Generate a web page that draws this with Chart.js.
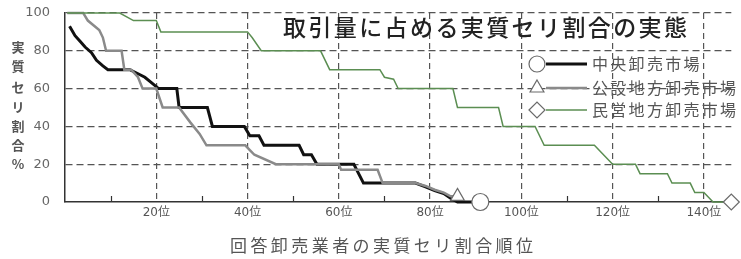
<!DOCTYPE html>
<html><head><meta charset="utf-8">
<script src="https://cdn.jsdelivr.net/npm/chart.js@4/dist/chart.umd.min.js"></script>
<style>html,body{margin:0;padding:0;background:#fff;} #wrap{width:741px;height:259px;}</style>
</head><body><div id="wrap"><canvas id="c" width="741" height="259"></canvas></div>
<script>
const chartTitle = '取引量に占める実質セリ割合の実態';
const xAxisTitle = '回答卸売業者の実質セリ割合順位';
const yAxisTitleChars = ['実','質','セ','リ','割','合','%'];
const seriesNames = ['中央卸売市場','公設地方卸売市場','民営地方卸売市場'];
const yTickValues = [0,20,40,60,80,100];
const xTickValues = [0,10,20,30,40,50,60,70,80,90,100,110,120,130,140];
const xTickSuffix = '位';

// 中央卸売市場 (rank, share %)
const centralRank  = [1,2.2,3.3,4.4,5.8,6.9,8.3,9.4,14.2,15.9,17.5,19,20,20.5,24.5,25,31.2,32.3,39.3,40.5,42.5,43.6,51.3,52.3,54,55.2,63.3,65.4,76.8,79,81,83,84.5,86,91];
const centralShare = [93,88,85,82,79,75,72,70,70,68,66,63,61,60,60,50,50,40,40,35,35,30,30,25,25,20,20,10,10,8,6,4.5,2,0,0];
// 公設地方卸売市場
const publicRank  = [0.5,4,5,7.5,8.3,9,12.4,13,14.5,16,17,20,21.4,25,27.5,29.5,31,39.5,40.5,41.5,46.2,60,60.5,68.5,69.6,76.8,79,81,83,84.5,86];
const publicShare = [100,100,96,91,87,80,80,70,70,66,60,60,50,50,42,36,30,30,27.5,25,20,20,17,17,10,10,8.5,6.5,5,3,3];
// 民営地方卸売市場
const privateRank  = [0.5,12,15,20,21,40,41,43,56,58,69,70,72,73,85,86,95,96,103,105,116,120,125,126,132,133,137,138,140,142,146];
const privateShare = [100,100,96,96,90,90,87,80,80,70,70,66,65,60,60,50,50,40,40,30,30,20,20,15,15,10,10,5,5,0,0];

const toPts = (xs, ys) => xs.map((x, i) => ({x, y: ys[i]}));
const lastOnly = (n, r) => (ctx) => ctx.dataIndex === n - 1 ? r : 0;

const colors = { central: '#111111', pub: '#8a8a8a', priv: '#5b8e52', marker: '#6a6a6a' };
const styles = ['circle', 'triangle', 'rectRot'];
const lineColors = [colors.central, colors.pub, colors.priv];
const lineWidths = [3, 2.5, 1.5];

function spacedText(ctx, text, x, y, width) {
  ctx.letterSpacing = '0px';
  const w = ctx.measureText(text).width;
  const n = [...text].length;
  const sp = n > 1 ? (width - w) / (n - 1) : 0;
  ctx.letterSpacing = sp + 'px';
  ctx.fillText(text, x, y);
  ctx.letterSpacing = '0px';
}

const decor = {
  id: 'decor',
  beforeDatasetsDraw(chart) {
    const ctx = chart.ctx;
    const xs = chart.scales.x, ys = chart.scales.y;
    ctx.save();
    // minor ticks inward
    ctx.strokeStyle = '#333'; ctx.lineWidth = 1.2;
    for (let v = 10; v < 146; v += 20) {
      const px = Math.round(xs.getPixelForValue(v)) + 0.5;
      ctx.beginPath(); ctx.moveTo(px, ys.bottom); ctx.lineTo(px, ys.bottom - 6); ctx.stroke();
    }
    ctx.restore();
  },
  afterDraw(chart) {
    const ctx = chart.ctx;
    ctx.save();
    // title
    ctx.fillStyle = '#222';
    ctx.font = '500 23px "Noto Sans CJK JP"';
    ctx.textBaseline = 'middle'; ctx.textAlign = 'left';
    spacedText(ctx, chartTitle, 283, 27, 404);
    // y axis title, stacked
    ctx.fillStyle = '#555';
    ctx.font = 'bold 13px "Noto Sans CJK JP"';
    ctx.textAlign = 'center';
    const yPos = [47, 66, 87, 107, 126, 145, 164];
    yAxisTitleChars.forEach((ch, i) => ctx.fillText(ch, 18, yPos[i]));
    // x axis title
    ctx.font = '17px "Noto Sans CJK JP"';
    ctx.textAlign = 'left';
    spacedText(ctx, xAxisTitle, 230, 246, 303);
    // legend
    const rows = [64, 88, 110];
    rows.forEach((ry, i) => {
      ctx.strokeStyle = lineColors[i]; ctx.lineWidth = lineWidths[i];
      ctx.beginPath(); ctx.moveTo(546, ry); ctx.lineTo(587, ry); ctx.stroke();
    });
    rows.forEach((ry, i) => {
      ctx.fillStyle = '#fff'; ctx.strokeStyle = colors.marker; ctx.lineWidth = 1.2;
      Chart.helpers.drawPoint(ctx, {pointStyle: styles[i], radius: 8, borderWidth: 1.2}, 537, ry);
      ctx.fillStyle = '#555';
      ctx.font = '16px "Noto Sans CJK JP"';
      ctx.textAlign = 'left'; ctx.textBaseline = 'middle';
      const n = [...seriesNames[i]].length;
      spacedText(ctx, seriesNames[i], 592, ry, n * 18.3 - 2.3);
    });
    ctx.restore();
  }
};

const mkDs = (label, xs, ys, i) => ({
  label, data: toPts(xs, ys), showLine: true,
  borderColor: lineColors[i], borderWidth: lineWidths[i], tension: 0,
  pointStyle: styles[i], pointRadius: lastOnly(xs.length, i === 0 ? 8.5 : 8), pointHoverRadius: 0,
  pointBackgroundColor: '#fff', pointBorderColor: colors.marker, pointBorderWidth: 1.2,
  clip: false
});

new Chart(document.getElementById('c'), {
  type: 'scatter',
  data: { datasets: [
    mkDs(seriesNames[2], privateRank, privateShare, 2),
    mkDs(seriesNames[1], publicRank, publicShare, 1),
    mkDs(seriesNames[0], centralRank, centralShare, 0)
  ]},
  options: {
    responsive: false, animation: false, devicePixelRatio: 1,
    layout: { padding: { top: 13, right: 7, left: 0, bottom: 0 } },
    plugins: { legend: { display: false }, tooltip: { enabled: false }, title: { display: false } },
    scales: {
      x: {
        type: 'linear', min: 0, max: 146,
        afterFit: s => { s.height = 57; s.paddingLeft = 0; s.paddingRight = 0; },
        afterBuildTicks: s => { s.ticks = xTickValues.map(v => ({value: v})); },
        ticks: { autoSkip: false, maxRotation: 0, padding: 4, color: '#555',
          font: { family: '"DejaVu Sans", "Noto Sans CJK JP"', size: 12 },
          callback: v => (v > 0 && v % 20 === 0) ? v + xTickSuffix : '' },
        grid: { drawTicks: false, lineWidth: 1.2,
          color: c => (c.tick && c.tick.value > 0 && c.tick.value % 20 === 0) ? '#555' : 'rgba(0,0,0,0)' },
        border: { display: true, color: '#333', width: 1.5, dash: [6, 4] }
      },
      y: {
        min: 0, max: 100,
        afterFit: s => { s.width = 65; s.paddingTop = 0; s.paddingBottom = 0; },
        afterBuildTicks: s => { s.ticks = yTickValues.map(v => ({value: v})); },
        ticks: { padding: 15, color: '#666', font: { family: '"DejaVu Sans"', size: 13 } },
        grid: { drawTicks: false, lineWidth: 1.2,
          color: c => (c.tick && c.tick.value > 0) ? '#555' : 'rgba(0,0,0,0)' },
        border: { display: true, color: '#333', width: 1.5, dash: [7, 4] }
      }
    }
  },
  plugins: [decor]
});
</script></body></html>
